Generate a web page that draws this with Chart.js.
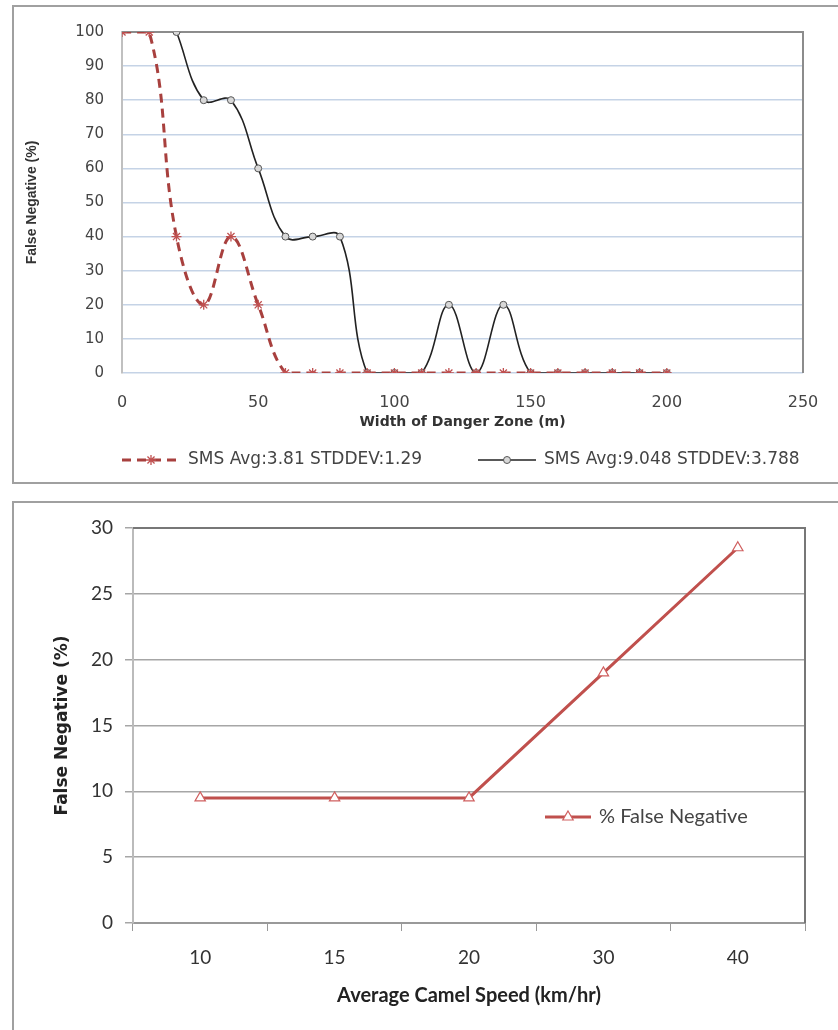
<!DOCTYPE html>
<html>
<head>
<meta charset="utf-8">
<script src="https://cdn.jsdelivr.net/npm/chart.js@4.4.1/dist/chart.umd.min.js"></script>
<style>
	body { margin: 0; background: #ffffff; width: 838px; height: 1030px; overflow: hidden; position: relative; }
	.frame { position: absolute; border: 2px solid #a0a0a0; box-sizing: border-box; }
	canvas { position: absolute; left: 0; }
</style>
</head>
<body>
<div class="frame" style="left:12px; top:5px; width:900px; height:479px;"></div>
<div class="frame" style="left:12px; top:501px; width:900px; height:700px;"></div>
<canvas id="chartWidth" width="838" height="490" style="top:0px;"></canvas>
<canvas id="chartSpeed" width="838" height="540" style="top:490px;"></canvas>
<script>
//main Data
//* Top chart: width of danger zone (m)
const widths = [0, 10, 20, 30, 40, 50, 60, 70, 80, 90, 100, 110, 120, 130, 140, 150, 160, 170, 180, 190, 200];
const redValues = [100, 100, 40, 20, 40, 20, 0, 0, 0, 0, 0, 0, 0, 0, 0, 0, 0, 0, 0, 0, 0];
const blackValues = [null, null, 100, 80, 80, 60, 40, 40, 40, 0, 0, 0, 20, 0, 20, 0, 0, 0, 0, 0, 0];
const redLabel = "SMS Avg:3.81 STDDEV:1.29";
const blackLabel = "SMS Avg:9.048 STDDEV:3.788";
//* Bottom chart: average camel speed
const speedLabels = ["10", "15", "20", "30", "40"];
const fnValues = [9.5, 9.5, 9.5, 19, 28.5];
const fnLabel = "% False Negative";

//* Colors
const redDark = "#a8403e";
const redLine = "#c0504d";
const blueGrid = "#c5d3e6";

//funcion Plot area border on top and right (Excel style)
const plotBorder = {
	id: "plotBorder",
	beforeDatasetsDraw(chart, args, opts) {
		const { ctx, chartArea: a } = chart;
		ctx.save();
		ctx.strokeStyle = opts.color;
		ctx.lineWidth = 2;
		ctx.beginPath();
		ctx.moveTo(a.left, a.top);
		ctx.lineTo(a.right, a.top);
		ctx.lineTo(a.right, a.bottom);
		ctx.stroke();
		ctx.restore();
	},
};

//funcion Draws a legend entry: line sample, marker, text
function legendItem(chart, ds, x, y, len, text, font) {
	const ctx = chart.ctx;
	ctx.save();
	ctx.strokeStyle = ds.borderColor;
	ctx.lineWidth = ds.borderWidth;
	ctx.setLineDash(ds.borderDash || []);
	ctx.beginPath();
	ctx.moveTo(x, y);
	ctx.lineTo(x + len, y);
	ctx.stroke();
	//* Marker in the middle of the sample line
	ctx.setLineDash([]);
	ctx.lineWidth = ds.pointBorderWidth;
	ctx.fillStyle = ds.pointBackgroundColor;
	ctx.strokeStyle = ds.pointBorderColor;
	Chart.helpers.drawPoint(ctx, {
		pointStyle: ds.pointStyle,
		rotation: 0,
		radius: ds.pointRadius,
		borderWidth: ds.pointBorderWidth,
	}, x + len / 2, y);
	ctx.fillStyle = "#444444";
	ctx.font = font;
	ctx.textBaseline = "middle";
	ctx.fillText(text, x + len + 8, y);
	ctx.restore();
}

//* Custom legend for the top chart (below the axis title)
const legendTop = {
	id: "legendTop",
	afterDraw(chart) {
		const a = chart.chartArea;
		const y = a.bottom + 87;
		const ds = chart.data.datasets;
		legendItem(chart, ds[0], a.left, y, 58, redLabel, "17px 'DejaVu Sans'");
		legendItem(chart, ds[1], a.left + 356, y, 58, blackLabel, "17px 'DejaVu Sans'");
	},
};

//* Custom legend for the bottom chart (inside plot area)
const legendBottom = {
	id: "legendBottom",
	afterDraw(chart) {
		const a = chart.chartArea;
		legendItem(chart, chart.data.datasets[0], a.left + 412, a.top + 289, 46, fnLabel, "20px Lato");
	},
};

//* Top chart
const chartWidth = new Chart(document.getElementById("chartWidth"), {
	type: "line",
	data: {
		datasets: [
			{
				label: redLabel,
				data: widths.map((w, i) => ({ x: w, y: redValues[i] })),
				borderColor: redDark,
				borderWidth: 3,
				borderDash: [9, 6],
				tension: 0.4,
				pointStyle: "star",
				pointRadius: 5,
				pointBorderWidth: 1.3,
				pointBorderColor: "#c05050",
				pointBackgroundColor: "#c05050",
			},
			{
				label: blackLabel,
				data: widths.map((w, i) => ({ x: w, y: blackValues[i] })),
				borderColor: "#222222",
				borderWidth: 1.6,
				tension: 0.4,
				pointStyle: "circle",
				pointRadius: 3.5,
				pointBorderWidth: 1,
				pointBorderColor: "#555555",
				pointBackgroundColor: "#d8d8d8",
			},
		],
	},
	options: {
		responsive: false,
		animation: false,
		layout: { padding: { top: 32, right: 35, left: 0, bottom: 59 } },
		plugins: {
			legend: { display: false },
			tooltip: { enabled: false },
			plotBorder: { color: "#8c8c8c" },
		},
		scales: {
			x: {
				type: "linear",
				min: 0,
				max: 250,
				afterFit: (s) => { s.height = 58; },
				grid: { display: false },
				border: { display: false },
				ticks: {
					stepSize: 50,
					padding: 12,
					color: "#444444",
					font: { family: "DejaVu Sans", size: 16 },
				},
				title: {
					display: true,
					text: "Width of Danger Zone (m)",
					color: "#333333",
					padding: 0,
					font: { family: "DejaVu Sans", size: 14, weight: "bold" },
				},
			},
			y: {
				min: 0,
				max: 100,
				afterFit: (s) => { s.width = 122; },
				grid: { color: blueGrid, lineWidth: 1.5, drawTicks: false },
				border: { color: "#c0c0c0", width: 2 },
				ticks: {
					stepSize: 10,
					padding: 18,
					color: "#444444",
					font: { family: "DejaVu Sans", size: 15 },
				},
				title: {
					display: true,
					text: "False Negative (%)",
					color: "#333333",
					padding: { top: 24 },
					font: { family: "'Liberation Sans Narrow', 'Liberation Sans'", size: 14, weight: "bold" },
				},
			},
		},
	},
	plugins: [plotBorder, legendTop],
});

//* Bottom chart
const chartSpeed = new Chart(document.getElementById("chartSpeed"), {
	type: "line",
	data: {
		labels: speedLabels,
		datasets: [
			{
				label: fnLabel,
				data: fnValues,
				borderColor: redLine,
				borderWidth: 3,
				tension: 0,
				pointStyle: "triangle",
				pointRadius: 6,
				pointBorderWidth: 1.2,
				pointBorderColor: "#d06060",
				pointBackgroundColor: "#ffffff",
			},
		],
	},
	options: {
		responsive: false,
		animation: false,
		layout: { padding: { top: 38, right: 33, left: 0, bottom: 22 } },
		plugins: {
			legend: { display: false },
			tooltip: { enabled: false },
			plotBorder: { color: "#777777" },
		},
		scales: {
			x: {
				type: "category",
				offset: true,
				afterFit: (s) => { s.height = 85; },
				grid: { offset: true, drawOnChartArea: false, drawTicks: true, tickLength: 8, color: "#999999" },
				border: { color: "#999999", width: 2 },
				ticks: {
					padding: 15,
					color: "#333333",
					font: { family: "Lato", size: 19 },
				},
				title: {
					display: true,
					text: "Average Camel Speed (km/hr)",
					color: "#222222",
					padding: 0,
					font: { family: "Lato", size: 20, weight: "bold" },
				},
			},
			y: {
				min: 0,
				max: 30,
				afterFit: (s) => { s.width = 133; },
				grid: { color: "#a6a6a6", lineWidth: 1.5, drawTicks: true, tickLength: 8 },
				border: { color: "#bbbbbb", width: 2 },
				ticks: {
					stepSize: 5,
					padding: 12,
					color: "#333333",
					font: { family: "Lato", size: 19 },
				},
				title: {
					display: true,
					text: "False Negative (%)",
					color: "#222222",
					padding: { top: 52 },
					font: { family: "DejaVu Sans", size: 17, weight: "bold" },
				},
			},
		},
	},
	plugins: [plotBorder, legendBottom],
});
</script>
</body>
</html>
